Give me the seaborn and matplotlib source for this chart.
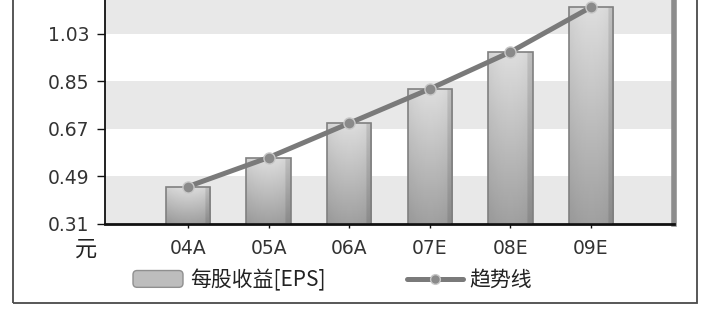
import numpy as np
import pandas as pd
import matplotlib
matplotlib.use("Agg")
import matplotlib.pyplot as plt
import seaborn as sns
from matplotlib.patches import Rectangle, FancyBboxPatch
from matplotlib.lines import Line2D
from matplotlib.legend_handler import HandlerPatch

# Earnings per share by period (A = actual, E = estimate)
periods = ["04A", "05A", "06A", "07E", "08E", "09E"]
eps = [0.45, 0.56, 0.69, 0.82, 0.96, 1.13]
trend = [0.45, 0.56, 0.69, 0.82, 0.96, 1.13]
y_ticks = [0.31, 0.49, 0.67, 0.85, 1.03, 1.21]
unit_label = "元"
bar_label = "每股收益[EPS]"
line_label = "趋势线"

sns.set_theme(style="white")
plt.rcParams["font.family"] = ["DejaVu Sans", "Noto Sans CJK SC"]
plt.rcParams["axes.grid"] = False

W, H = 703, 324
fig = plt.figure(figsize=(W / 100, H / 100), dpi=100)
fig.patch.set_facecolor("white")
ax = fig.add_axes([105 / W, 100.5 / H, 569 / W, 223.5 / H])
ax.set_facecolor("white")

df = pd.DataFrame({"period": periods, "eps": eps, "trend": trend})

sns.barplot(data=df, x="period", y="eps", width=0.55, color="#c0c0c0",
            saturation=1, ax=ax, zorder=2)

ymin, ymax = 0.31, 1.157
xmin, xmax = -1.03, 6.03

# alternating horizontal bands between the y ticks
for i in range(len(y_ticks) - 1):
    if i % 2 == 0:
        ax.axhspan(y_ticks[i], y_ticks[i + 1], facecolor="#e8e8e8",
                   edgecolor="none", lw=0, zorder=0.2)

# vertical grey gradient inside each bar
rows, cols = 64, 32
v = np.linspace(0.87, 0.63, rows)[:, None]
xx = np.linspace(-1, 1, cols)[None, :]
h = 1 - 0.05 * xx ** 2 - 0.10 * (xx > 0.8)
grad = v * h
for bar in list(ax.patches):
    if bar.get_zorder() != 2:
        continue
    x0 = bar.get_x()
    x1 = x0 + bar.get_width()
    top = bar.get_height()
    bar.set_facecolor("none")
    bar.set_edgecolor("#808080")
    bar.set_linewidth(1.2)
    im = ax.imshow(grad, cmap="gray", vmin=0, vmax=1, origin="upper",
                   extent=(x0, x1, ymin, top), aspect="auto",
                   interpolation="bilinear", zorder=1.5)
    im.set_clip_path(bar)

sns.lineplot(data=df, x="period", y="trend", ax=ax, color="#7a7a7a", lw=3.6,
             marker="o", markersize=8, markerfacecolor="#8a8a8a",
             markeredgecolor="#c8c8c8", markeredgewidth=1, zorder=4)

ax.set_xlim(xmin, xmax)
ax.set_ylim(ymin, ymax)
ax.set_yticks(y_ticks[:-1])
ax.set_yticklabels([f"{t:.2f}" for t in y_ticks[:-1]])
ax.set_xlabel("")
ax.set_ylabel("")
ax.grid(False)

ax.spines["top"].set_visible(False)
ax.spines["left"].set_color("#111111")
ax.spines["left"].set_linewidth(1.3)
ax.spines["bottom"].set_color("#111111")
ax.spines["bottom"].set_linewidth(2)
ax.spines["right"].set_color("#8c8c8c")
ax.spines["right"].set_linewidth(4)

ax.tick_params(axis="y", which="major", left=True, length=6, width=1,
               color="#111111", direction="out", labelsize=13.5,
               labelcolor="#333333", pad=5)
ax.tick_params(axis="x", which="major", bottom=True, length=3, width=1,
               color="#111111", direction="out", labelsize=13.5,
               labelcolor="#333333", pad=8.5)

fig.text(86 / W, 1 - 249 / H, unit_label, ha="center", va="center",
         fontsize=16, color="#222222", family=["Noto Sans CJK SC"])


class GradientBoxHandler(HandlerPatch):
    def create_artists(self, legend, orig_handle, xdescent, ydescent,
                       width, height, fontsize, trans):
        p = FancyBboxPatch((-xdescent, -ydescent), width, height,
                           boxstyle="round,pad=0,rounding_size=3",
                           facecolor="#bdbdbd", edgecolor="#8f8f8f",
                           lw=1, transform=trans)
        return [p]


legend_size = 15
legend_font = {"family": ["Noto Sans CJK SC"], "size": legend_size}
fs_px = legend_size * 100 / 72

box_handle = Rectangle((0, 0), 1, 1)
leg1 = fig.legend([box_handle], [bar_label], loc="center left",
                  bbox_to_anchor=(133 / W, 1 - 280 / H),
                  bbox_transform=fig.transFigure, frameon=False,
                  prop=legend_font, borderpad=0, borderaxespad=0,
                  handlelength=50 / fs_px, handleheight=18 / fs_px,
                  handletextpad=7 / fs_px,
                  handler_map={Rectangle: GradientBoxHandler()})
for t in leg1.get_texts():
    t.set_color("#222222")

line_handle = Line2D([], [], color="#7a7a7a", lw=3.6, marker="o",
                     markersize=7, markerfacecolor="#8a8a8a",
                     markeredgecolor="#c8c8c8", markeredgewidth=1)
leg2 = fig.legend([line_handle], [line_label], loc="center left",
                  bbox_to_anchor=(407 / W, 1 - 280 / H),
                  bbox_transform=fig.transFigure, frameon=False,
                  prop=legend_font, borderpad=0, borderaxespad=0,
                  handlelength=56 / fs_px, handletextpad=6 / fs_px)
for t in leg2.get_texts():
    t.set_color("#222222")

# outer border of the chart panel (top edge runs off the canvas)
frame = Rectangle((13 / W, 1 - 303 / H), (697 - 13) / W, 1.0,
                  transform=fig.transFigure, fill=False,
                  edgecolor="#4a4a4a", lw=1.3, clip_on=False)
fig.add_artist(frame)

fig.savefig("out.png", dpi=100)
